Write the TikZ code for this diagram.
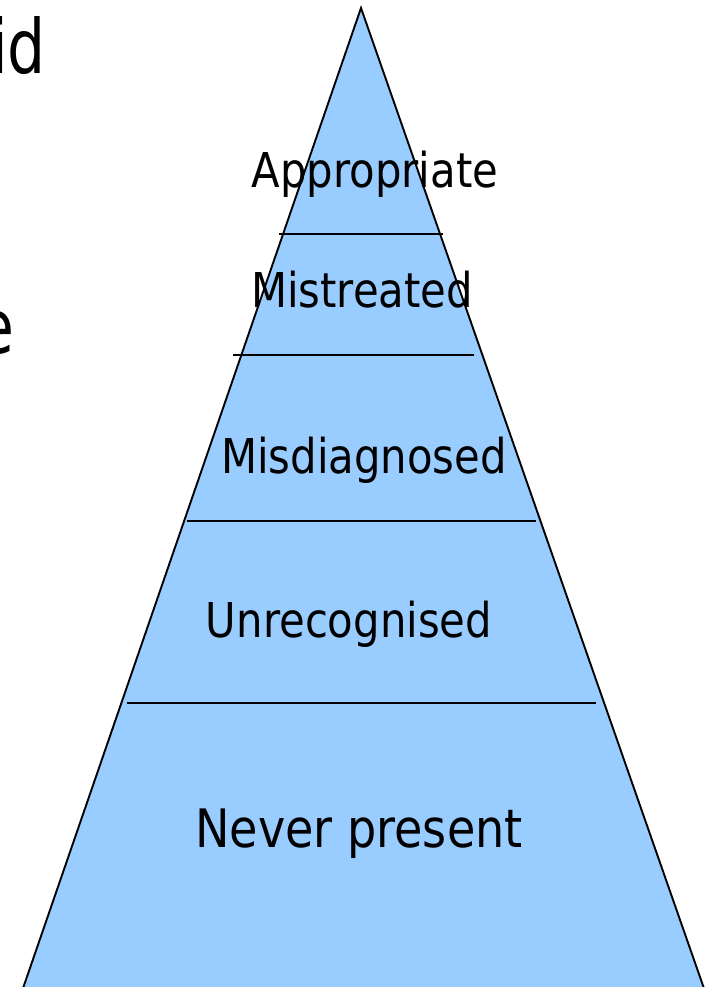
\documentclass[tikz,border=0pt]{standalone}
\usepackage{fontspec}
\setmainfont{DejaVu Sans}[FakeStretch=0.87]
\newfontfamily\bigfont{DejaVu Sans}[FakeStretch=0.8]
\definecolor{pyrfill}{HTML}{99CCFF}
\begin{document}
\begin{tikzpicture}[x=1pt,y=-1pt,
  lbl/.style={anchor=base,inner sep=0pt,font=\fontsize{48}{58}\selectfont},
  big/.style={inner sep=0pt,font=\bigfont\fontsize{75}{90}\selectfont},
  divider/.style={draw=black,line width=1.9pt},
  edge/.style={draw=black,line width=1.9pt,fill=pyrfill,line join=miter}]
\useasboundingbox (0,0) rectangle (708,987);
\clip (0,0) rectangle (708,987);
\coordinate (apex) at (361,8);
\coordinate (bl) at (20,997);
\coordinate (br) at (707,997);
\path[edge] (apex) -- (br) -- (bl) -- cycle;
\node[big,anchor=base east] (t1) at (46,74) {id};
\node[big,anchor=base east] (t2) at (15,353) {e};
\coordinate (l1a) at (279,234); \coordinate (l1b) at (443,234);
\coordinate (l2a) at (233,355); \coordinate (l2b) at (474,355);
\coordinate (l3a) at (187,521); \coordinate (l3b) at (536,521);
\coordinate (l4a) at (127,703); \coordinate (l4b) at (596,703);
\draw[divider] (l1a) -- (l1b);
\draw[divider] (l2a) -- (l2b);
\draw[divider] (l3a) -- (l3b);
\draw[divider] (l4a) -- (l4b);
\node[lbl] (appr) at (375,187) {Appropriate};
\node[lbl] (mist) at (362,307) {Mistreated};
\node[lbl] (misd) at (364,473) {Misdiagnosed};
\node[lbl] (unre) at (349,637) {Unrecognised};
\node[lbl,font=\fontsize{53}{64}\selectfont] (neve) at (359,847) {Never present};
\end{tikzpicture}
\end{document}
